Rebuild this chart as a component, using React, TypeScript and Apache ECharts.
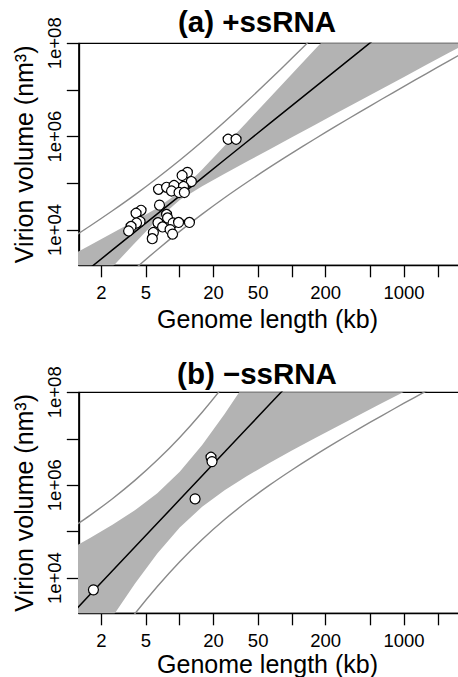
import React, { useEffect, useRef } from "react";
import * as echarts from "echarts";

// ---------- texts ----------
const panelTitles = ["(a) +ssRNA", "(b) \u2212ssRNA"];
const xTitle = "Genome length (kb)";
const yTitle = "Virion volume (nm\u00B3)";

// ---------- axis ticks ----------
const xTickKb = [2, 5, 10, 20, 50, 100, 200, 500, 1000, 2000];
const xLabelKb = [2, 5, 20, 50, 200, 1000];
const yTickExp = [4, 5, 6, 7, 8];
const yLabelExp = [4, 6, 8];
const xRangeLog = [0.1, 3.68];
const yRangeLog = [3.243, 8];

// ---------- (a) +ssRNA observations ----------
const aGenomeKb = [27.0, 31.8, 11.7, 10.5, 12.7, 6.47, 7.63, 8.9, 10.8, 8.45, 9.86, 11.0, 6.6, 4.52, 4.08,
  4.43, 4.12, 3.68, 3.5, 7.63, 7.79, 6.4, 8.71, 9.76, 12.2, 7.03, 8.2, 5.82, 5.69, 8.63];
const aVolume = [8.8e5, 8.8e5, 1.71e5, 1.47e5, 1.09e5, 7.44e4, 8.21e4, 8.98e4, 8.55e4, 6.84e4, 6.35e4, 6.35e4,
  3.4e4, 2.64e4, 2.28e4, 1.52e4, 1.41e4, 1.19e4, 9.5e3, 2.15e4, 1.81e4, 1.43e4, 1.41e4, 1.45e4, 1.45e4,
  1.16e4, 1.02e4, 8.83e3, 6.5e3, 8.13e3];

// ---------- (b) -ssRNA observations ----------
const bGenomeKb = [1.7, 13.7, 19.0, 19.4];
const bVolume = [5600, 5.07e5, 4.0e6, 3.22e6];

// ---------- fitted line and bands (log10 units) ----------
const bandLog10Kb = [0.0, 0.2, 0.4, 0.6, 0.8, 1.0, 1.2, 1.4, 1.6, 1.8, 2.0, 2.2, 2.4, 2.6, 2.8, 3.0, 3.2, 3.4, 3.6, 3.8];

const aFitLog = [2.799, 3.185, 3.572, 3.958, 4.345, 4.731, 5.117, 5.504, 5.89, 6.277, 6.663, 7.049, 7.436, 7.822, 8.209, 8.595, 8.981, 9.368, 9.754, 10.141];
const aCiHighLog = [3.413, 3.672, 3.934, 4.197, 4.472, 4.82, 5.298, 5.804, 6.315, 6.828, 7.341, 7.854, 8.368, 8.882, 9.397, 9.91, 10.424, 10.939, 11.453, 11.968];
const aCiLowLog = [2.185, 2.698, 3.21, 3.719, 4.218, 4.642, 4.936, 5.204, 5.466, 5.726, 5.985, 6.244, 6.504, 6.762, 7.022, 7.28, 7.538, 7.797, 8.055, 8.314];
const aPiHighLog = [3.774, 4.085, 4.411, 4.752, 5.113, 5.493, 5.895, 6.318, 6.758, 7.213, 7.679, 8.154, 8.637, 9.124, 9.617, 10.113, 10.611, 11.112, 11.614, 12.118];
const aPiLowLog = [1.824, 2.285, 2.733, 3.164, 3.577, 3.969, 4.339, 4.69, 5.022, 5.341, 5.647, 5.944, 6.235, 6.52, 6.801, 7.077, 7.351, 7.624, 7.894, 8.164];

const bFitLog = [3.135, 3.646, 4.157, 4.669, 5.18, 5.691, 6.202, 6.713, 7.225, 7.736, 8.247, 8.758, 9.269, 9.781, 10.292, 10.803, 11.314, 11.825, 12.337, 12.848];
const bCiHighLog = [4.593, 4.862, 5.147, 5.46, 5.828, 6.29, 6.868, 7.535, 8.252, 8.993, 9.747, 10.509, 11.277, 12.048, 12.821, 13.596, 14.371, 15.148, 15.926, 16.704];
const bCiLowLog = [1.677, 2.43, 3.167, 3.878, 4.532, 5.092, 5.536, 5.891, 6.198, 6.479, 6.747, 7.007, 7.261, 7.514, 7.763, 8.01, 8.257, 8.502, 8.748, 8.992];
const bPiHighLog = [5.021, 5.352, 5.71, 6.104, 6.541, 7.029, 7.572, 8.165, 8.802, 9.471, 10.166, 10.879, 11.606, 12.345, 13.09, 13.841, 14.597, 15.357, 16.121, 16.886];
const bPiLowLog = [1.249, 1.94, 2.604, 3.234, 3.819, 4.353, 4.832, 5.261, 5.648, 6.001, 6.328, 6.637, 6.932, 7.217, 7.494, 7.765, 8.031, 8.293, 8.553, 8.81];

const FONT = '"Liberation Sans", Arial, Helvetica, sans-serif';
const L10 = Math.log10;

const panels = [
  { top: 43.3, height: 222, genome: aGenomeKb, volume: aVolume, fit: aFitLog, ciHi: aCiHighLog, ciLo: aCiLowLog, piHi: aPiHighLog, piLo: aPiLowLog, titleY: 21, xTitleY: 318.5 },
  { top: 392.3, height: 221, genome: bGenomeKb, volume: bVolume, fit: bFitLog, ciHi: bCiHighLog, ciLo: bCiLowLog, piHi: bPiHighLog, piLo: bPiLowLog, titleY: 373, xTitleY: 664 },
];

function buildOption() {
  const grid: any[] = [];
  const xAxis: any[] = [];
  const yAxis: any[] = [];
  const series: any[] = [];
  const graphic: any[] = [];

  panels.forEach((p, i) => {
    grid.push({
      left: 78.8, top: p.top, width: 401.5, height: p.height,
      show: true, borderColor: "#000", borderWidth: 1.3, backgroundColor: "transparent",
    });
    xAxis.push({
      type: "value", gridIndex: i, min: xRangeLog[0], max: xRangeLog[1],
      splitLine: { show: false },
      axisLine: { show: true, lineStyle: { color: "#000", width: 1.3 } },
      axisTick: { show: true, inside: false, length: 12, customValues: xTickKb.map(L10), lineStyle: { color: "#000", width: 1.3 } },
      axisLabel: {
        customValues: xLabelKb.map(L10), margin: 18, color: "#000", fontSize: 18.5, fontFamily: FONT,
        formatter: (v: number) => String(Math.round(Math.pow(10, v))),
      },
    });
    yAxis.push({
      type: "value", gridIndex: i, min: yRangeLog[0], max: yRangeLog[1],
      splitLine: { show: false },
      axisLine: { show: true, lineStyle: { color: "#000", width: 1.3 } },
      axisTick: { show: true, inside: false, length: 12, customValues: yTickExp, lineStyle: { color: "#000", width: 1.3 } },
      axisLabel: {
        customValues: yLabelExp, rotate: 90, margin: 15, color: "#000", fontSize: 18.5, fontFamily: FONT,
        formatter: (v: number) => "1e+0" + Math.round(v),
      },
      name: yTitle, nameLocation: "middle", nameGap: 39,
      nameTextStyle: { color: "#000", fontSize: 25, fontFamily: FONT },
    });

    // confidence band as one polygon, mapped through the axes
    const upper = bandLog10Kb.map((x, k) => [x, p.ciHi[k]]);
    const lower = bandLog10Kb.map((x, k) => [x, p.ciLo[k]]).reverse();
    series.push({
      type: "custom", xAxisIndex: i, yAxisIndex: i, silent: true, clip: true, z: 1,
      data: [[bandLog10Kb[0], p.ciLo[0]]],
      renderItem: (_params: any, api: any) => {
        const pts = upper.concat(lower).map((d) => api.coord(d));
        return { type: "polygon", shape: { points: pts }, style: { fill: "#b3b3b3", stroke: "none" } };
      },
    });
    [p.piHi, p.piLo].forEach((arr) => {
      series.push({
        type: "line", xAxisIndex: i, yAxisIndex: i, symbol: "none", smooth: 0.3, z: 2,
        lineStyle: { color: "#8a8a8a", width: 1.4 }, silent: true,
        data: bandLog10Kb.map((x, k) => [x, arr[k]]),
      });
    });
    series.push({
      type: "line", xAxisIndex: i, yAxisIndex: i, symbol: "none", z: 3,
      lineStyle: { color: "#000", width: 1.5 }, silent: true,
      data: bandLog10Kb.map((x, k) => [x, p.fit[k]]),
    });
    series.push({
      type: "scatter", xAxisIndex: i, yAxisIndex: i, symbol: "circle", symbolSize: 10, z: 4,
      itemStyle: { color: "#fff", borderColor: "#000", borderWidth: 1.2, opacity: 1 },
      data: p.genome.map((g, k) => [L10(g), L10(p.volume[k])]),
    });

    graphic.push({
      type: "text", x: 257, y: p.titleY,
      style: { text: panelTitles[i], fill: "#000", fontSize: 29.5, fontWeight: "bold", fontFamily: FONT, align: "center", verticalAlign: "middle" },
    });
    graphic.push({
      type: "text", x: 267.5, y: p.xTitleY,
      style: { text: xTitle, fill: "#000", fontSize: 25, fontFamily: FONT, align: "center", verticalAlign: "middle" },
    });
  });

  return { animation: false, backgroundColor: "#fff", grid, xAxis, yAxis, series, graphic };
}

export default function App() {
  const ref = useRef<HTMLDivElement>(null);
  useEffect(() => {
    if (!ref.current) return;
    const chart = echarts.init(ref.current, null, { renderer: "svg" });
    chart.setOption(buildOption() as any);
    return () => chart.dispose();
  }, []);
  return (
    <div style={{ position: "fixed", left: 0, top: 0, width: 458, height: 677, overflow: "hidden", background: "#fff" }}>
      <div ref={ref} style={{ width: 490, height: 677 }} />
    </div>
  );
}
